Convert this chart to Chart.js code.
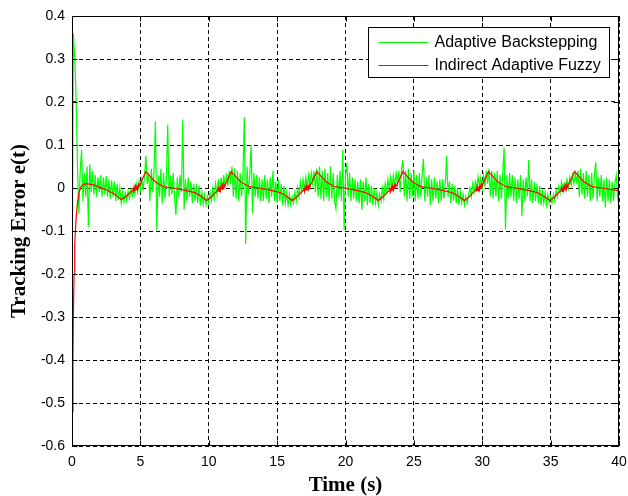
<!DOCTYPE html>
<html><head><meta charset="utf-8">
<script src="https://cdn.jsdelivr.net/npm/chart.js@4"></script>
<style>html,body{margin:0;padding:0;background:#fff}#wrap{width:628px;height:496px;position:relative}</style>
</head><body><div id="wrap"><canvas id="c"></canvas></div>
<script>
// ---- tick labels ----
const xTicks = [0, 5, 10, 15, 20, 25, 30, 35, 40];
const yTicks = [0.4, 0.3, 0.2, 0.1, 0, -0.1, -0.2, -0.3, -0.4, -0.5, -0.6];
const seriesNames = ['Adaptive Backstepping', 'Indirect Adaptive Fuzzy'];
const xTitle = 'Time (s)';
const yTitle = 'Tracking Error e(t)';

// ---- Adaptive Backstepping: sampled every 0.1 s, one line per second ----
const greenStep = 0.1;
const greenE = [
 -0.33, 0.36, 0.30, 0.21, 0.05, -0.06, 0.04, 0.089, -0.03, 0.035,
 -0.02, 0.05, -0.09, 0.055, -0.01, 0.04, -0.015, 0.03, -0.02, 0.025,
 -0.01, 0.03, -0.02, 0.025, -0.015, 0.028, -0.02, 0.02, -0.025, 0.018,
 -0.02, 0.015, -0.03, 0.01, -0.028, 0.0, -0.035, -0.01, -0.032, -0.012,
 -0.03, -0.008, -0.025, -0.005, -0.02, 0.0, -0.015, 0.01, -0.01, 0.015,
 -0.005, 0.02, -0.002, 0.025, 0.075, 0.01, 0.035, -0.03, 0.045, -0.01,
 0.04, 0.155, -0.098, 0.03, -0.02, 0.045, -0.036, 0.035, -0.025, 0.02,
 0.147, -0.02, 0.03, -0.015, 0.035, -0.025, -0.063, 0.025, -0.02, 0.03,
 -0.01, 0.159, -0.05, 0.02, -0.03, 0.025, -0.02, 0.015, -0.035, 0.01,
 -0.03, 0.01, -0.035, 0.005, -0.04, -0.01, -0.038, -0.015, -0.04, -0.02,
 -0.035, -0.01, -0.03, 0.0, -0.025, 0.01, -0.015, 0.02, -0.01, 0.025,
 -0.005, 0.03, 0.0, 0.035, 0.005, 0.04, 0.01, 0.05, -0.02, 0.045,
 -0.025, 0.04, -0.03, 0.035, -0.02, 0.03, 0.165, -0.13, 0.05, -0.015,
 0.03, 0.1, -0.059, 0.035, -0.02, 0.03, -0.025, 0.025, -0.03, 0.02,
 -0.03, 0.03, -0.025, 0.02, -0.035, 0.025, -0.02, 0.04, -0.03, 0.015,
 -0.035, 0.02, -0.03, 0.01, -0.04, 0.005, -0.035, -0.01, -0.04, -0.015,
 -0.038, -0.02, -0.035, -0.01, -0.03, 0.0, -0.02, 0.015, -0.01, 0.02,
 -0.005, 0.025, 0.0, 0.03, 0.005, 0.035, 0.01, 0.04, -0.01, 0.045,
 -0.02, 0.05, -0.025, 0.04, -0.03, 0.045, -0.02, 0.035, -0.03, 0.05,
 -0.025, 0.035, -0.03, -0.048, 0.03, -0.02, 0.04, -0.03, 0.089, -0.098,
 0.03, 0.058, -0.02, 0.035, -0.03, 0.025, -0.025, 0.02, -0.03, 0.015,
 -0.035, 0.02, -0.051, 0.015, -0.03, 0.025, -0.04, 0.01, -0.035, 0.005,
 -0.04, 0.0, -0.035, -0.01, -0.04, -0.015, -0.03, 0.0, -0.025, 0.01,
 -0.01, 0.02, -0.005, 0.025, 0.0, 0.03, 0.005, 0.035, 0.01, 0.04,
 -0.01, 0.045, 0.065, -0.02, 0.04, -0.03, 0.045, -0.025, 0.035, -0.02,
 0.04, -0.03, 0.03, -0.025, 0.035, -0.02, 0.03, 0.068, -0.03, 0.025,
 -0.02, 0.03, -0.04, 0.02, -0.03, 0.025, -0.025, 0.015, -0.035, 0.02,
 -0.03, 0.02, -0.025, 0.01, 0.075, -0.02, 0.015, -0.035, 0.01, -0.03,
 0.005, -0.035, 0.0, -0.04, -0.01, -0.035, -0.015, -0.04, -0.02, -0.035,
 -0.015, 0.0, -0.02, 0.01, -0.01, 0.015, 0.0, 0.026, 0.005, 0.025,
 0.0, 0.03, 0.005, 0.04, 0.01, 0.045, -0.02, 0.04, -0.025, 0.035,
 -0.02, 0.04, -0.03, 0.03, -0.025, 0.035, 0.095, -0.097, 0.03, -0.025,
 0.035, -0.02, 0.03, -0.03, 0.025, -0.035, 0.02, -0.025, 0.03, -0.065,
 0.02, -0.03, 0.025, -0.02, 0.065, -0.03, 0.02, -0.035, 0.015, -0.03,
 0.01, -0.035, 0.005, -0.04, -0.005, -0.035, -0.01, -0.04, -0.015, -0.035,
 -0.02, -0.035, -0.015, -0.03, -0.005, -0.02, 0.005, -0.01, 0.015, 0.0,
 0.01, -0.005, 0.02, 0.0, 0.025, 0.005, 0.03, 0.01, 0.035, 0.015,
 0.04, -0.02, 0.045, -0.015, 0.035, -0.025, 0.04, -0.02, 0.03, -0.03,
 0.035, -0.025, 0.03, 0.06, -0.03, 0.025, -0.02, 0.03, -0.03, 0.02,
 -0.045, 0.025, -0.03, 0.02, -0.035, 0.015, -0.03, 0.01, 0.03, -0.02,
 0.0
];

// ---- Indirect Adaptive Fuzzy: vertices ----
const redT = [
 0.04, 0.07, 0.1, 0.15, 0.2, 0.3, 0.4, 0.5, 0.65, 0.8, 1.0, 1.5, 2.0, 2.5, 3.0, 3.3, 3.6,
 3.9, 4.2, 4.4, 4.45, 4.5, 4.55, 4.6, 4.65, 4.7, 4.75, 4.8, 4.85, 4.9, 5.05, 5.4, 5.75, 6.1, 6.7, 7.4, 8.4, 9.0, 9.4, 9.85,
 10.15, 10.45, 10.65, 10.7, 10.75, 10.8, 10.85, 10.9, 10.95, 11.0, 11.05, 11.1, 11.15, 11.3, 11.65, 12.0, 12.35, 12.95, 13.65, 14.65, 15.25, 15.65, 16.1,
 16.4, 16.7, 16.9, 16.95, 17.0, 17.05, 17.1, 17.15, 17.2, 17.25, 17.3, 17.35, 17.4, 17.55, 17.9, 18.25, 18.6, 19.2, 19.9, 20.9, 21.5, 21.9, 22.4,
 22.7, 23.0, 23.2, 23.25, 23.3, 23.35, 23.4, 23.45, 23.5, 23.55, 23.6, 23.65, 23.7, 23.85, 24.2, 24.55, 24.9, 25.5, 26.2, 27.2, 27.8, 28.2, 28.7,
 29.0, 29.3, 29.5, 29.55, 29.6, 29.65, 29.7, 29.75, 29.8, 29.85, 29.9, 29.95, 30.0, 30.1, 30.45, 30.8, 31.15, 31.75, 32.45, 33.45, 34.05, 34.45, 34.95,
 35.25, 35.55, 35.75, 35.8, 35.85, 35.9, 35.95, 36.0, 36.05, 36.1, 36.15, 36.2, 36.25, 36.4, 36.75, 37.1, 37.45, 38.05, 38.75, 39.5, 40.0
];
const redE = [
 -0.52, -0.40, -0.30, -0.20, -0.13, -0.07, -0.035, -0.012, 0.002, 0.008, 0.010, 0.008, 0.002, -0.004, -0.012, -0.019, -0.027,
 -0.021, -0.012, -0.006, 0.0, -0.008, 0.002, -0.006, 0.004, -0.004, 0.006, -0.002, 0.008, 0.004, 0.014, 0.038, 0.026, 0.014, 0.003, 0.0, -0.006, -0.011, -0.018, -0.029,
 -0.022, -0.012, -0.006, 0.0, -0.008, 0.002, -0.006, 0.004, -0.004, 0.006, -0.002, 0.008, 0.004, 0.014, 0.038, 0.026, 0.014, 0.003, 0.0, -0.006, -0.011, -0.018, -0.029,
 -0.022, -0.012, -0.006, 0.0, -0.008, 0.002, -0.006, 0.004, -0.004, 0.006, -0.002, 0.008, 0.004, 0.014, 0.038, 0.026, 0.014, 0.003, 0.0, -0.006, -0.011, -0.018, -0.029,
 -0.022, -0.012, -0.006, 0.0, -0.008, 0.002, -0.006, 0.004, -0.004, 0.006, -0.002, 0.008, 0.004, 0.014, 0.038, 0.026, 0.014, 0.003, 0.0, -0.006, -0.011, -0.018, -0.029,
 -0.022, -0.012, -0.006, 0.0, -0.008, 0.002, -0.006, 0.004, -0.004, 0.006, -0.002, 0.008, 0.004, 0.014, 0.038, 0.026, 0.014, 0.003, 0.0, -0.006, -0.011, -0.018, -0.029,
 -0.022, -0.012, -0.006, 0.0, -0.008, 0.002, -0.006, 0.004, -0.004, 0.006, -0.002, 0.008, 0.004, 0.014, 0.038, 0.026, 0.014, 0.003, 0.0, -0.004, -0.006
];

const seriesColors = ['#00ff00', '#ff0000'];

const greenData = greenE.map((v, i) => ({ x: Math.round(i * greenStep * 100) / 100, y: v }));
const redData = redT.map((t, i) => ({ x: t, y: redE[i] }));

const frameTicksLegend = {
  id: 'frameTicksLegend',
  afterDraw(chart) {
    const { ctx, chartArea: a, scales } = chart;
    const L = Math.round(a.left) + 0.5, R = Math.round(a.right) - 0.5;
    const T = Math.round(a.top) + 0.5, B = Math.round(a.bottom) - 0.5;
    ctx.save();
    ctx.strokeStyle = '#000';
    ctx.lineWidth = 1;
    ctx.setLineDash([]);
    ctx.strokeRect(L, T, R - L, B - T);
    const tl = 5;
    ctx.beginPath();
    xTicks.forEach(v => {
      const px = Math.round(scales.x.getPixelForValue(v)) + 0.5;
      ctx.moveTo(px, B); ctx.lineTo(px, B - tl);
      ctx.moveTo(px, T); ctx.lineTo(px, T + tl);
    });
    yTicks.forEach(v => {
      const py = Math.round(scales.y.getPixelForValue(v)) + 0.5;
      ctx.moveTo(L, py); ctx.lineTo(L + tl, py);
      ctx.moveTo(R, py); ctx.lineTo(R - tl, py);
    });
    ctx.stroke();

    // legend box
    const bw = 241, bh = 50;
    const bx = Math.round(a.right - 10 - bw) + 0.5;
    const by = Math.round(a.top + 11) + 0.5;
    ctx.fillStyle = '#fff';
    ctx.fillRect(bx, by, bw, bh);
    ctx.strokeRect(bx, by, bw, bh);
    ctx.font = '16px "Liberation Sans", Arial, sans-serif';
    ctx.textBaseline = 'middle';
    ctx.textAlign = 'left';
    seriesNames.forEach((name, i) => {
      const ry = Math.round(by + 14 + i * 23) + 0.5;
      ctx.strokeStyle = seriesColors[i];
      ctx.beginPath();
      ctx.moveTo(bx + 10, ry); ctx.lineTo(bx + 60, ry);
      ctx.stroke();
      ctx.fillStyle = '#000';
      ctx.fillText(name, bx + 66, ry + 0.5);
    });
    ctx.restore();
  }
};

new Chart(document.getElementById('c'), {
  type: 'line',
  data: {
    datasets: [
      { label: seriesNames[0], data: greenData, borderColor: seriesColors[0], borderWidth: 1.2, pointRadius: 0, tension: 0, order: 1 },
      { label: seriesNames[1], data: redData, borderColor: seriesColors[1], borderWidth: 1.2, pointRadius: 0, tension: 0, order: 0 }
    ]
  },
  options: {
    responsive: true,
    maintainAspectRatio: false,
    animation: false,
    events: [],
    layout: { padding: { top: 16, right: 9, left: 0, bottom: 0 } },
    plugins: { legend: { display: false }, tooltip: { enabled: false } },
    scales: {
      x: {
        type: 'linear', min: 0, max: 40,
        afterBuildTicks: s => { s.ticks = xTicks.map(v => ({ value: v })); },
        afterFit: s => { s.height = 50; s.paddingLeft = 0; s.paddingRight = 0; },
        ticks: { autoSkip: false, maxRotation: 0, padding: 8, color: '#000',
          font: { family: '"Liberation Sans", Arial, sans-serif', size: 14 },
          callback: v => String(v) },
        grid: { color: '#000', lineWidth: 1, drawTicks: false },
        border: { display: false, dash: [4, 3] },
        title: { display: true, text: xTitle, color: '#000', padding: { top: 0, bottom: 0 },
          font: { family: '"Liberation Serif", "Times New Roman", serif', size: 21, weight: 'bold', lineHeight: 1.0 } }
      },
      y: {
        type: 'linear', min: -0.6, max: 0.4,
        afterBuildTicks: s => { s.ticks = yTicks.map(v => ({ value: v })); },
        afterFit: s => { s.width = 72; s.paddingTop = 0; s.paddingBottom = 0; },
        ticks: { autoSkip: false, padding: 7, color: '#000',
          font: { family: '"Liberation Sans", Arial, sans-serif', size: 14 },
          callback: v => { const r = Math.round(v * 10) / 10; return r === 0 ? '0' : String(r); } },
        grid: { color: '#000', lineWidth: 1, drawTicks: false },
        border: { display: false, dash: [4, 3] },
        title: { display: true, text: yTitle, color: '#000', padding: { top: 7, bottom: 0 },
          font: { family: '"Liberation Serif", "Times New Roman", serif', size: 21, weight: 'bold', lineHeight: 1.2 } }
      }
    }
  },
  plugins: [frameTicksLegend]
});
</script>
</body></html>
